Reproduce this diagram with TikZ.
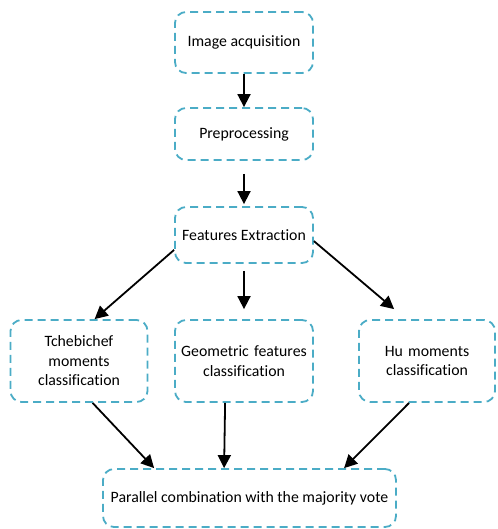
\documentclass[tikz,border=0pt]{standalone}
\usepackage{fontspec}
\setmainfont{Carlito}[RawFeature=-liga]
\usetikzlibrary{arrows.meta,calc}
\definecolor{boxblue}{HTML}{4BACC6}
\tikzset{
  box/.style={draw=boxblue, line width=1.8pt, dash pattern=on 8pt off 5pt, rounded corners=11pt,
    inner sep=2pt, align=center, font=\fontsize{15.8}{19.5}\selectfont, text=black},
  arr/.style={line width=1.8pt, -{Triangle[length=13pt,width=13pt]}}
}
\begin{document}
\begin{tikzpicture}[x=1pt,y=-1pt]
\useasboundingbox (0,0) rectangle (497,529);
\node[box, minimum width=138pt, minimum height=61pt] (a) at (244,42.5) {Image acquisition};
\node[box, minimum width=138pt, minimum height=52pt] (p) at (244,134) {Preprocessing};
\node[box, minimum width=138pt, minimum height=56pt] (f) at (244,235) {Features Extraction};
\node[box, minimum width=137pt, minimum height=82pt, text width=130pt] (t) at (79,361) {Tchebichef\\moments\\classification};
\node[box, minimum width=137pt, minimum height=82pt, text width=134pt] (g) at (244,361) {Geometric features\\classification\\[6pt]};
\node[box, minimum width=136pt, minimum height=82pt, text width=130pt] (h) at (427,361) {Hu moments\\classification\\[6pt]};
\node[box, minimum width=293pt, minimum height=58pt] (c) at (249.5,498) {Parallel combination with the majority vote};
\draw[arr] (a.south) -- (p.north);
\draw[arr, shorten <=13pt, shorten >=2pt] (p.south) -- (f.north);
\draw[arr] ($(f.south west)+(0,-14)$) -- ($(t.north west)+(85,0)$);
\draw[arr, shorten <=7pt, shorten >=10pt] (f.south) -- (g.north);
\draw[arr] ($(f.north east)+(0,35)$) -- ($(h.north west)+(36,-10)$);
\draw[arr] ($(t.south west)+(83,0)$) -- ($(c.north west)+(52,0)$);
\draw[arr] ($(g.south west)+(51,0)$) -- ($(c.north west)+(122,0)$);
\draw[arr] ($(h.south west)+(51,0)$) -- ($(c.north west)+(242,0)$);
\end{tikzpicture}
\end{document}
